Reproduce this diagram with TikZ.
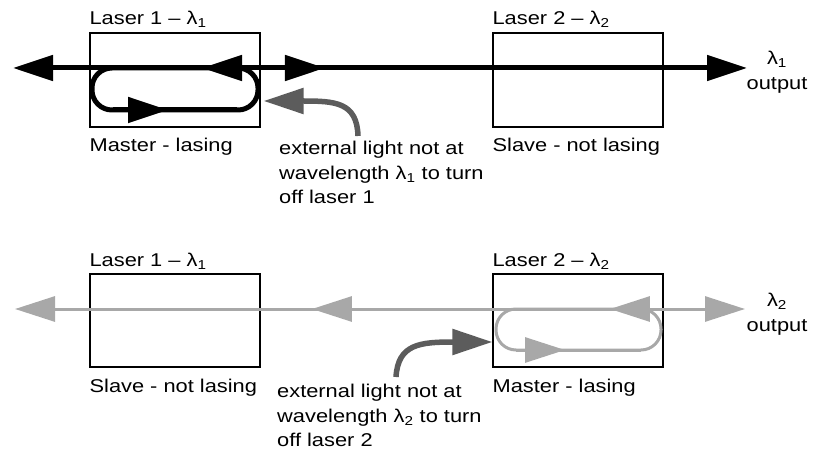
\documentclass[tikz,border=0pt]{standalone}
\usepackage{fontspec}
\setmainfont{Liberation Sans}[FakeStretch=1.18]
\usetikzlibrary{positioning,calc,arrows.meta,decorations.markings}
\definecolor{beamgray}{gray}{0.66}
\definecolor{extgray}{gray}{0.36}
\tikzset{laser/.style={draw,line width=1.2pt,minimum width=170pt,minimum height=94pt,inner sep=0pt},
         lbl/.style={inner sep=0pt,anchor=base west},
         note/.style={inner sep=0pt,anchor=north west,align=left},
         outlbl/.style={inner sep=0pt,anchor=north,align=center},
         Big/.tip={Triangle[length=40pt,width=25pt]},
         beam/.style={line width=5pt},
         dimbeam/.style={line width=3pt,color=beamgray},
         ext/.style={line width=5.5pt,color=extgray,-Big},
         midarrows/.style={postaction={decorate},decoration={markings,#1}}
}

\begin{document}
\begin{tikzpicture}[x=1pt,y=-1pt,font=\fontsize{18.5}{24.5}\selectfont]
  \useasboundingbox (0,0) rectangle (813,454);

  % upper row: laser 1 master
  \node[laser] (la) at (175,80) {};
  \node[laser] (lb) at (578,80) {};
  \coordinate (wa) at (13,68);
  \coordinate (ea) at (747,68);
  \coordinate (srca) at (358,136);
  \draw[beam,Big-Big,midarrows={mark=at position 0.2575 with {\arrowreversed{Big}},
        mark=at position 0.425 with {\arrow{Big}}}] (wa) -- (ea);
  \draw[beam,rounded corners=20pt] (92,68) rectangle (258,110);
  \draw[beam,midarrows={mark=at position 0.444 with {\arrow{Big}}}] (113,110) -- (237,110);
  \draw[ext] (srca) .. controls (357,102) and (335,101) .. ([xshift=3pt,yshift=-21pt]la.east);
  \node[lbl] (ta) at ([yshift=8pt]la.north west) {Laser 1 – λ\textsubscript{1}};
  \node[lbl] (ma) at ([yshift=-24pt]la.south west) {Master - lasing};
  \node[lbl] (tb) at ([yshift=8pt]lb.north west) {Laser 2 – λ\textsubscript{2}};
  \node[lbl] (sb) at ([yshift=-24pt]lb.south west) {Slave - not lasing};
  \node[note] (xa) at (279,141) {external light not at\\wavelength λ\textsubscript{1} to turn\\off laser 1};
  \node[outlbl] (oa) at (777,51) {λ\textsubscript{1}\\output};

  % lower row: laser 2 master
  \node[laser,minimum height=93pt] (lc) at (175,320.5) {};
  \node[laser,minimum height=93pt] (ld) at (578,320.5) {};
  \coordinate (wc) at (15,309);
  \coordinate (ec) at (745,309);
  \coordinate (srcd) at (396,377);
  \draw[dimbeam,Big-Big,midarrows={mark=at position 0.4068 with {\arrowreversed{Big}},
        mark=at position 0.815 with {\arrowreversed{Big}}}] (wc) -- (ec);
  \draw[dimbeam,rounded corners=20pt] (496,309) rectangle (661,350);
  \draw[dimbeam,midarrows={mark=at position 0.392 with {\arrow{Big}}}] (516,350) -- (641,350);
  \draw[ext] (srcd) .. controls (398,344) and (420,342) .. ([yshift=-21.5pt]ld.west);
  \node[lbl] (tc) at ([yshift=7pt]lc.north west) {Laser 1 – λ\textsubscript{1}};
  \node[lbl] (sc) at ([yshift=-25pt]lc.south west) {Slave - not lasing};
  \node[lbl] (td) at ([yshift=7pt]ld.north west) {Laser 2 – λ\textsubscript{2}};
  \node[lbl] (md) at ([yshift=-25pt]ld.south west) {Master - lasing};
  \node[note] (xd) at (277,384) {external light not at\\wavelength λ\textsubscript{2} to turn\\off laser 2};
  \node[outlbl] (od) at (777,293) {λ\textsubscript{2}\\output};
\end{tikzpicture}
\end{document}
